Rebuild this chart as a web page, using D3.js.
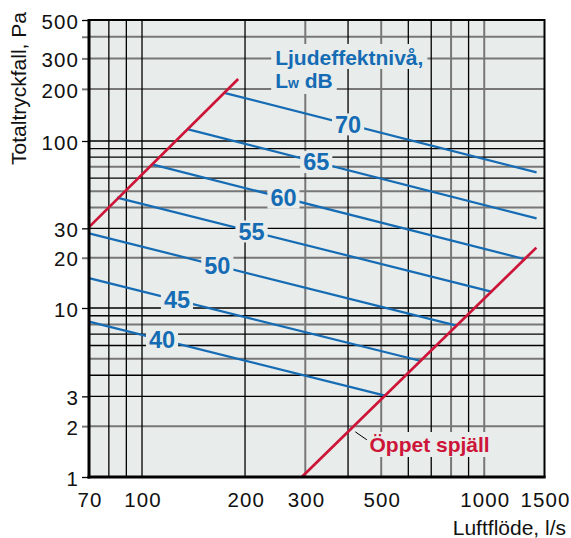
<!DOCTYPE html>
<html><head><meta charset="utf-8">
<script src="https://cdn.jsdelivr.net/npm/d3@7/dist/d3.min.js"></script>
<style>
body{margin:0;background:#fff}
svg{display:block;font-family:"Liberation Sans",Arial,Helvetica,sans-serif}
</style>
</head><body>
<svg id="c" width="571" height="538"></svg>
<script>
// ---- data ----
const xTickValues = [70, 100, 200, 300, 500, 1000, 1500];
const yTickValues = [1, 2, 3, 10, 20, 30, 100, 200, 300, 400, 500];
const yTickLabels = ["1", "2", "3", "10", "20", "30", "100", "200", "300", "", "500"];
const gridXBlack = [80, 90, 100, 200, 400, 600, 700, 900];
const gridXGray = [300, 500, 800, 1000];
const gridYBlack = [3, 4, 6, 7, 9, 10, 30, 60, 80, 90, 100];
const gridYGray = [2, 5, 8, 20, 40, 50, 70, 200, 300, 400];

const levels = [40, 45, 50, 55, 60, 65, 70];               // Lw dB
const levelStartFlow = [70, 70, 70, 84.5, 107, 136.5, 175];
const levelStartDp = [8.3, 15.1, 28, 45.8, 72.5, 116.8, 189];
const levelEndFlow = [513, 653, 830, 1055, 1315, 1422, 1422];
const levelEndDp = [3.03, 4.86, 7.86, 12.5, 19.6, 34.4, 64.9];
const levelLabelFlow = [114.4, 126.5, 166, 209, 259, 323, 400];

const damperFlow = [[70, 191], [293, 1420]];
const damperDp = [[30.5, 228], [1, 23]];

const titleText = ["Ljudeffektnivå,", "L", "w", " dB"];
const titlePos = [245, 275];          // flow, dp
const damperLabel = "Öppet spjäll";
const damperLabelPos = [462, 1.406];  // flow, dp
const leaderFlow = [420, 454];
const leaderDp = [1.85, 1.66];

const xTitle = "Luftflöde, l/s";
const yTitle = "Totaltryckfall, Pa";

// ---- style ----
const BG = "#e8ecea";
const BLUE = "#156cb4";
const RED = "#cd1439";
const GRAY = "#777";

const svg = d3.select("#c");
const x = d3.scaleLog().domain([70, 1500]).range([89, 544.5]);
const y = d3.scaleLog().domain([1, 10, 100, 500]).range([477, 308, 141, 20]);
const [x0, x1] = x.range();
const y0 = 477, y1 = 20;

svg.append("rect").attr("x", x0).attr("y", y1).attr("width", x1 - x0).attr("height", y0 - y1).attr("fill", BG);

const grid = svg.append("g");
grid.selectAll(".gyg").data(gridYGray).join("line")
  .attr("x1", x0).attr("x2", x1).attr("y1", d => y(d)).attr("y2", d => y(d))
  .attr("stroke", GRAY).attr("stroke-width", 2);
grid.selectAll(".gxg").data(gridXGray).join("line")
  .attr("y1", y0).attr("y2", y1).attr("x1", d => x(d)).attr("x2", d => x(d))
  .attr("stroke", GRAY).attr("stroke-width", 2);
grid.selectAll(".gyb").data(gridYBlack).join("line")
  .attr("x1", x0).attr("x2", x1).attr("y1", d => y(d)).attr("y2", d => y(d))
  .attr("stroke", "#000").attr("stroke-width", 1.3);
grid.selectAll(".gxb").data(gridXBlack).join("line")
  .attr("y1", y0).attr("y2", y1).attr("x1", d => x(d)).attr("x2", d => x(d))
  .attr("stroke", "#000").attr("stroke-width", 1.3);

// blue lines
const blue = svg.append("g");
levels.forEach((lv, i) => {
  blue.append("line")
    .attr("x1", x(levelStartFlow[i])).attr("y1", y(levelStartDp[i]))
    .attr("x2", x(levelEndFlow[i])).attr("y2", y(levelEndDp[i]))
    .attr("stroke", BLUE).attr("stroke-width", 2.2);
});
// labels on lines
const lab = svg.append("g");
levels.forEach((lv, i) => {
  const ax = x(levelStartFlow[i]), bx = x(levelEndFlow[i]);
  const ay = y(levelStartDp[i]), by = y(levelEndDp[i]);
  const px = x(levelLabelFlow[i]);
  const t = (px - ax) / (bx - ax);
  const py = ay + t * (by - ay);
  const r = lab.append("rect").attr("fill", BG);
  const tx = lab.append("text").attr("x", px).attr("y", py + 8.4)
    .attr("text-anchor", "middle").attr("font-size", 23.5).attr("font-weight", "bold")
    .attr("fill", BLUE).text(lv);
  const w = tx.node().getComputedTextLength();
  r.attr("x", px - w / 2 - 3).attr("width", w + 6).attr("y", py - 11).attr("height", 22);
});

// title
const tg = svg.append("g");
const tx0 = x(titlePos[0]), ty0 = y(titlePos[1]);
const r1 = tg.append("rect").attr("fill", BG);
const r2 = tg.append("rect").attr("fill", BG);
const t1 = tg.append("text").attr("x", tx0).attr("y", ty0).attr("font-size", 21)
  .attr("font-weight", "bold").attr("fill", BLUE).text(titleText[0]);
const t2 = tg.append("text").attr("x", tx0).attr("y", ty0 + 23).attr("font-size", 21)
  .attr("font-weight", "bold").attr("fill", BLUE);
t2.append("tspan").text(titleText[1]);
t2.append("tspan").attr("font-size", 14).attr("dy", 0.5).text(titleText[2]);
t2.append("tspan").attr("dy", -0.5).text(titleText[3]);
let b1 = t1.node().getBBox(), b2 = t2.node().getBBox();
r1.attr("x", b1.x - 4).attr("y", b1.y - 2).attr("width", b1.width + 8).attr("height", b1.height + 2);
r2.attr("x", b2.x - 4).attr("y", b1.y + b1.height).attr("width", b2.width + 8).attr("height", b2.y + b2.height - (b1.y + b1.height) + 2);

// damper label
const dg = svg.append("g");
const dr = dg.append("rect").attr("fill", BG);
const dt = dg.append("text").attr("x", x(damperLabelPos[0])).attr("y", y(damperLabelPos[1]))
  .attr("font-size", 21).attr("font-weight", "bold").attr("fill", RED).text(damperLabel);
const db = dt.node().getBBox();
dr.attr("x", db.x - 3).attr("y", db.y - 1).attr("width", db.width + 6).attr("height", db.height + 2);
dg.append("line").attr("x1", x(leaderFlow[0])).attr("y1", y(leaderDp[0]))
  .attr("x2", x(leaderFlow[1])).attr("y2", y(leaderDp[1])).attr("stroke", "#000").attr("stroke-width", 1);

// red lines
damperFlow.forEach((f, i) => {
  svg.append("line").attr("x1", x(f[0])).attr("y1", y(damperDp[i][0]))
    .attr("x2", x(f[1])).attr("y2", y(damperDp[i][1]))
    .attr("stroke", RED).attr("stroke-width", 2.7);
});

// axes
const ya = svg.append("g").attr("transform", `translate(${x0},0)`)
  .call(d3.axisLeft(y).tickValues(yTickValues).tickSize(7).tickPadding(3)
    .tickFormat((d, i) => yTickLabels[i]));
ya.select(".domain").remove();
ya.attr("font-family", null);
ya.selectAll(".tick line").attr("stroke", d => gridYGray.includes(d) ? GRAY : "#000")
  .attr("stroke-width", d => gridYGray.includes(d) ? 2 : 1.3);
ya.selectAll(".tick text").attr("font-size", 20.5).attr("fill", "#111")
  .attr("letter-spacing", 1.1).attr("dy", "0.4em").attr("x", -10);

const xa = svg.append("g").attr("transform", `translate(0,${y0})`)
  .call(d3.axisBottom(x).tickValues(xTickValues).tickSize(0).tickFormat(d3.format("d")));
xa.select(".domain").remove();
xa.attr("font-family", null);
xa.selectAll(".tick text").attr("font-size", 20.5).attr("fill", "#111")
  .attr("letter-spacing", 1.1).attr("dy", 0).attr("y", 29.5).attr("dx", 0.6);

// border
svg.append("rect").attr("x", x0).attr("y", y1).attr("width", x1 - x0).attr("height", y0 - y1)
  .attr("fill", "none").attr("stroke", "#000").attr("stroke-width", 2);
svg.append("line").attr("x1", x0).attr("x2", x0).attr("y1", y1 - 1).attr("y2", y0 + 1.5)
  .attr("stroke", "#000").attr("stroke-width", 3);
svg.append("line").attr("x1", x0 - 1.5).attr("x2", x1 + 1).attr("y1", y0).attr("y2", y0)
  .attr("stroke", "#000").attr("stroke-width", 3);

// axis titles
svg.append("text").attr("transform", "translate(26,88.5) rotate(-90)")
  .attr("text-anchor", "middle").attr("font-size", 21).attr("fill", "#111").text(yTitle);
svg.append("text").attr("x", 566).attr("y", 535).attr("text-anchor", "end")
  .attr("font-size", 21).attr("fill", "#111").text(xTitle);
</script>
</body></html>
